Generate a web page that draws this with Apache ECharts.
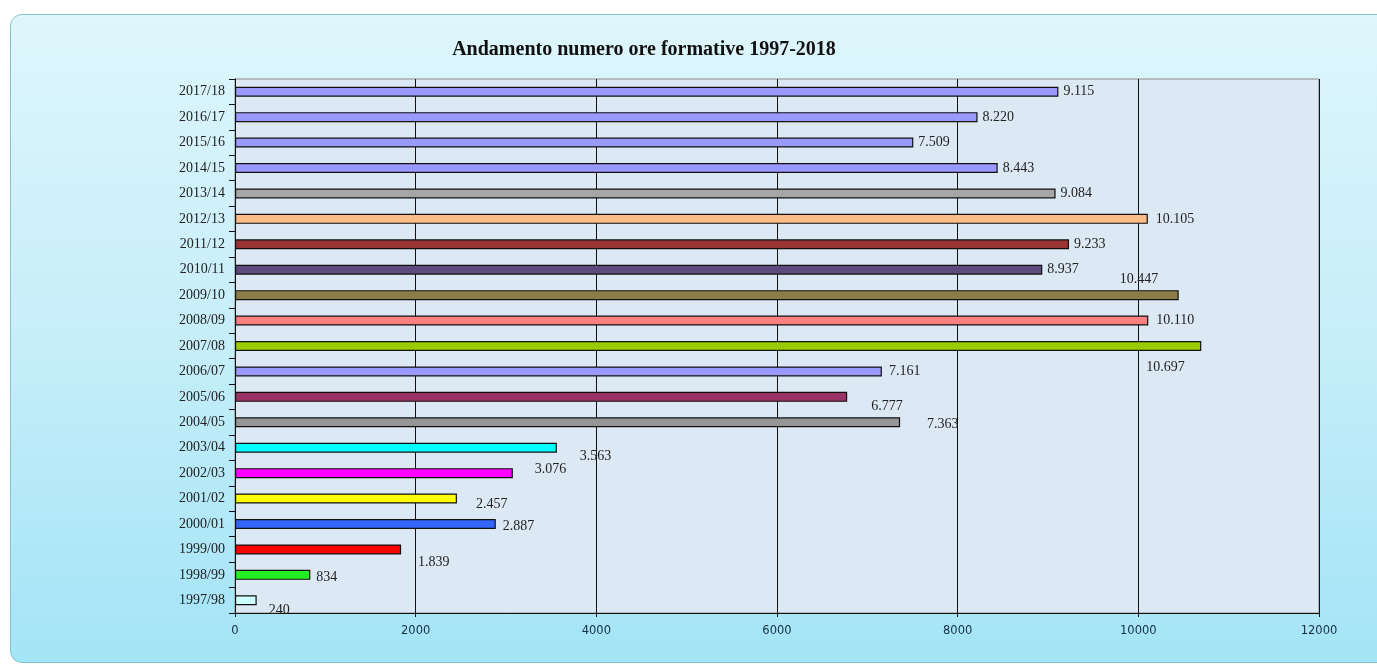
<!DOCTYPE html>
<html>
<head>
<meta charset="utf-8">
<script src="https://cdn.jsdelivr.net/npm/echarts@6/dist/echarts.min.js"></script>
<style>
  html, body { margin: 0; padding: 0; background: #fff; width: 1377px; height: 665px; overflow: hidden; }
  #frame {
    position: absolute; left: 10px; top: 14px; width: 1380px; height: 647px;
    border: 1px solid #86c4c8; border-radius: 12px;
    background: linear-gradient(to bottom, #def6fc 0%, #c6eef9 50%, #a3e4f7 100%);
  }
  #chart { position: absolute; left: 0; top: 0; width: 1377px; height: 665px; }
</style>
</head>
<body>
<div id="frame"></div>
<div id="chart"></div>
<script>
// dati: anni scolastici e ore formative
const anni = ['1997/98', '1998/99', '1999/00', '2000/01', '2001/02', '2002/03', '2003/04',
  '2004/05', '2005/06', '2006/07', '2007/08', '2008/09', '2009/10', '2010/11', '2011/12',
  '2012/13', '2013/14', '2014/15', '2015/16', '2016/17', '2017/18']
const ore = [240, 834, 1839, 2887, 2457, 3076, 3563, 7363, 6777, 7161, 10697, 10110,
  10447, 8937, 9233, 10105, 9084, 8443, 7509, 8220, 9115]
const tickX = [0, 2000, 4000, 6000, 8000, 10000, 12000]

// colori delle barre (stesso ordine di anni)
const colori = ['#ccffff', '#22ee22', '#ff0000', '#3366ff', '#ffff00', '#ff00ff', '#00ffff',
  '#969696', '#993366', '#9999ff', '#99cc00', '#ff8080', '#8a7d48', '#5e4a7c', '#993333',
  '#fbbd87', '#a6a6a6', '#9999ff', '#9999ff', '#9999ff', '#9999ff']

// spostamenti delle etichette come nel grafico originale
const spostamenti = {
  '1997/98': [7, 10], '1998/99': [1, 2], '1999/00': [12, 13], '2000/01': [2, 2],
  '2001/02': [14, 6], '2002/03': [17, -4], '2003/04': [18, 9], '2004/05': [22, 2],
  '2005/06': [19, 9], '2006/07': [2, 0], '2007/08': [-60, 21], '2008/09': [3, 0],
  '2009/10': [-64, -16], '2012/13': [3, 0]
}

const fmt = v => String(v).replace(/\B(?=(\d{3})+(?!\d))/g, '.')

const chart = echarts.init(document.getElementById('chart'))
chart.setOption({
  animation: false,
  title: {
    text: 'Andamento numero ore formative 1997-2018',
    left: 639, top: 35, textAlign: 'center',
    textStyle: { fontFamily: 'Liberation Serif', fontSize: 20, fontWeight: 'bold', color: '#111' }
  },
  grid: {
    left: 235, right: 58, top: 79, bottom: 52,
    show: true, backgroundColor: '#dde8f5', borderColor: '#8a8a8a', borderWidth: 1
  },
  xAxis: {
    type: 'value', min: 0, max: 12000, interval: 2000,
    axisLine: { show: true, lineStyle: { color: '#111', width: 1 } },
    axisTick: { show: true, length: 4, lineStyle: { color: '#111' } },
    splitLine: { show: true, lineStyle: { color: '#111', width: 1 } },
    axisLabel: {
      margin: 12, color: '#16303f', fontFamily: 'DejaVu Sans', fontSize: 11.5,
      formatter: v => tickX.includes(v) ? String(v) : ''
    }
  },
  yAxis: {
    type: 'category', data: anni,
    axisLine: { show: true, lineStyle: { color: '#111', width: 1 } },
    axisTick: { show: true, length: 6, lineStyle: { color: '#111' } },
    axisLabel: { margin: 10, color: '#222', fontFamily: 'Liberation Serif', fontSize: 14 }
  },
  series: [{
    type: 'bar',
    barWidth: 10,
    data: ore.map((v, i) => ({
      value: v,
      itemStyle: { color: colori[i], borderColor: '#111', borderWidth: 1.2 },
      label: { offset: spostamenti[anni[i]] || [0, 0] }
    })),
    label: {
      show: true, position: 'right', distance: 5,
      color: '#222', fontFamily: 'Liberation Serif', fontSize: 14,
      formatter: p => fmt(p.value)
    }
  }]
})
</script>
</body>
</html>
